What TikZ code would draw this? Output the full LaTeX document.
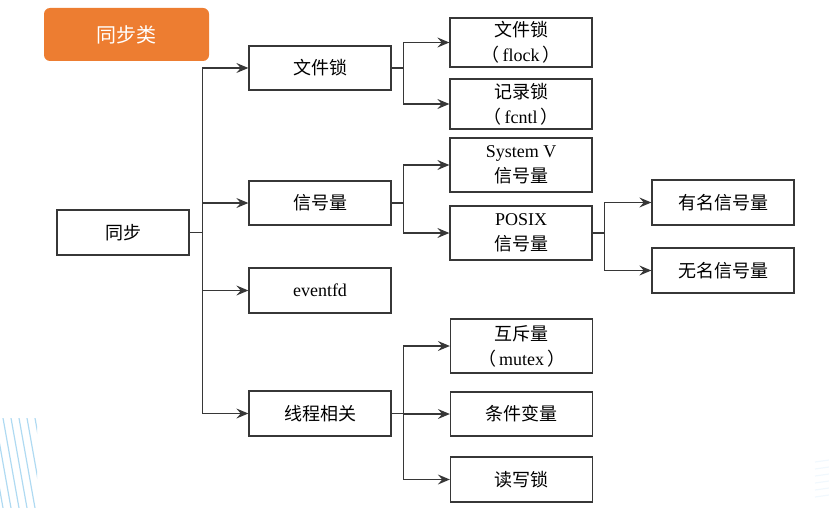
\documentclass[tikz,border=0pt]{standalone}
\usepackage{fontspec}
\setmainfont{Liberation Serif}
\newfontfamily\cjk{Noto Sans CJK SC}
\usetikzlibrary{positioning, arrows.meta}
\definecolor{taborange}{RGB}{237,125,49}
\definecolor{boxgray}{RGB}{55,55,55}
\definecolor{stripeblue}{RGB}{175,218,242}
\newcommand{\zhs}[1]{{\cjk #1}}
\tikzset{
  box/.style={draw=boxgray, line width=0.65pt, minimum width=71pt, minimum height=22pt,
    align=center, inner sep=1pt, font=\fontsize{9}{12.5}\selectfont},
  link/.style={draw=boxgray, line width=0.6pt},
  arr/.style={link, -{Stealth[length=6pt, width=5pt, inset=2.2pt]}}
}

\begin{document}
\begin{tikzpicture}[x=0.5pt, y=-0.5pt]
\useasboundingbox (0,0) rectangle (829,508);
\begin{scope}
\clip (0,418) rectangle (37,508);
\foreach \x in {-21,-13,...,37}
\draw[stripeblue, line width=0.6pt] (\x,418) -- (\x+16,508);
\end{scope}
\foreach \y in {462,469,...,497}
\draw[stripeblue!18, line width=0.6pt] (815,\y) -- (829,\y-2);
\node[fill=taborange, rounded corners=3pt, minimum width=82.5pt, minimum height=26.5pt,
  text=white, font=\cjk\fontsize{10}{12}\selectfont] (tab) at (126.5,34.5) {同步类};
\node[box, minimum width=66pt, minimum height=22.5pt] (tb) at (123,232.5) {\zhs{同步}};
\node[box] (wjs) at (320,68) {\zhs{文件锁}};
\node[box] (xhl) at (320,203) {\zhs{信号量}};
\node[box, minimum height=22.5pt] (evt) at (320,290.5) {eventfd};
\node[box, minimum height=22.5pt] (xc) at (320,413.5) {\zhs{线程相关}};
\node[box, minimum height=24.5pt] (flock) at (521,42.5) {\zhs{文件锁}\\\zhs{（}\,flock\,\zhs{）}};
\node[box, minimum height=25pt] (fcntl) at (521,104) {\zhs{记录锁}\\\zhs{（}\,fcntl\,\zhs{）}};
\node[box, minimum height=27pt] (sysv) at (521,165) {System V\\\zhs{信号量}};
\node[box, minimum height=27pt] (posix) at (521,233) {POSIX\\\zhs{信号量}};
\node[box, minimum height=22.5pt] (ym) at (723,202.5) {\zhs{有名信号量}};
\node[box, minimum height=22.5pt] (wm) at (723,270.5) {\zhs{无名信号量}};
\node[box, minimum height=27pt] (mutex) at (521.5,346) {\zhs{互斥量}\\\zhs{（}\,mutex\,\zhs{）}};
\node[box] (tjbl) at (521.5,414) {\zhs{条件变量}};
\node[box, minimum height=22.5pt] (dxs) at (521.5,479.5) {\zhs{读写锁}};
\coordinate[right=6.5pt of tb] (j0);
\coordinate[right=6pt of wjs] (j1);
\coordinate[right=6pt of xhl] (j2);
\coordinate[right=6pt of posix] (j3);
\coordinate[right=6pt of xc] (j4);
\draw[link] (tb) -- (j0);
\foreach \n in {wjs,xhl,evt,xc}
\draw[arr] (j0) |- (\n.west);
\draw[link] (wjs) -- (j1);
\foreach \n in {flock,fcntl}
\draw[arr] (j1) |- (\n.west);
\draw[link] (xhl) -- (j2);
\foreach \n in {sysv,posix}
\draw[arr] (j2) |- (\n.west);
\draw[link] (posix) -- (j3);
\foreach \n in {ym,wm}
\draw[arr] (j3) |- (\n.west);
\draw[link] (xc) -- (j4);
\foreach \n in {mutex,tjbl,dxs}
\draw[arr] (j4) |- (\n.west);
\end{tikzpicture}
\end{document}
